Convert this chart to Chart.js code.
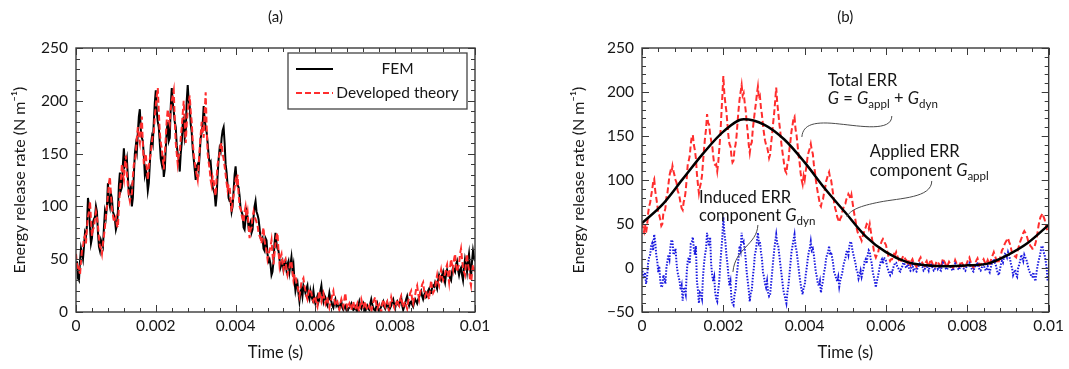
<!DOCTYPE html>
<html><head><meta charset="utf-8">
<script src="https://cdn.jsdelivr.net/npm/chart.js@4.4.1/dist/chart.umd.min.js"></script>
<style>
html,body{margin:0;padding:0;background:#fff;width:1069px;height:369px;overflow:hidden}
#wrapA{position:absolute;left:0;top:0;width:535px;height:369px}
#wrapB{position:absolute;left:535px;top:0;width:534px;height:369px}
</style></head><body>
<div id="wrapA"><canvas id="chartA" width="535" height="369"></canvas></div>
<div id="wrapB"><canvas id="chartB" width="534" height="369"></canvas></div>
<script>
// ---------- data ----------
const sampleStep = 0.00005;       // step of the main noisy samples (s); "Mid" arrays sit halfway between
const applStep = 0.0005;          // time step of the smooth applied ERR (s)

// Panel (a): FEM
const femERR = [
 45, 32, 48, 55, 62, 72, 108, 80, 70, 88, 100, 75, 58, 65, 80, 90, 122, 100, 108, 92,
 78, 95, 132, 118, 155, 140, 128, 115, 100, 130, 158, 170, 192, 165, 148, 135, 115, 140, 165, 180,
 210, 180, 160, 140, 128, 155, 180, 165, 212, 190, 175, 150, 133, 160, 185, 170, 215, 195, 170, 145,
 125, 140, 150, 170, 195, 175, 160, 140, 130, 115, 100, 130, 155, 165, 175, 140, 120, 105, 95, 115,
 138, 120, 110, 95, 80, 88, 90, 82, 75, 90, 105, 92, 80, 68, 60, 70, 55, 50, 35, 48,
 75, 60, 50, 45, 40, 48, 45, 38, 52, 45, 20, 28, 10, 22, 25, 18, 25, 12, 15, 20,
 8, 15, 12, 25, 10, 14, 6, 18, 10, 4, 12, 8, 3, 10, 2, 6, 0, 4, 8, 2,
 5, 0, 10, 3, 8, 0, 6, 2, 12, 4, 1, 8, 0, 5, 10, 3, 9, 2, 6, 12,
 4, 10, 6, 14, 2, 8, 15, 6, 10, 5, 12, 8, 14, 20, 12, 18, 15, 22, 18, 25,
 28, 22, 35, 30, 38, 28, 40, 35, 30, 42, 38, 48, 35, 42, 30, 50, 38, 55, 32, 58, 48
];
const femERRMid = [
 48, 30, 60, 50, 75, 82, 100, 65, 85, 90, 95, 62, 68, 62, 95, 100, 105, 112, 95, 88,
 82, 120, 115, 140, 138, 145, 112, 118, 108, 150, 152, 185, 172, 162, 130, 128, 122, 158, 160, 198,
 190, 175, 145, 148, 135, 172, 162, 195, 198, 180, 158, 145, 150, 178, 165, 200, 200, 178, 155, 135,
 138, 135, 165, 178, 182, 170, 148, 142, 118, 112, 110, 145, 152, 172, 160, 132, 108, 105, 100, 130,
 125, 118, 98, 92, 78, 95, 80, 85, 78, 100, 95, 88, 70, 70, 58, 68, 48, 45, 38, 65,
 65, 58, 42, 48, 45, 40, 48, 45, 40, 30, 25, 18, 18, 15, 22, 22, 15, 20, 12, 12,
 12, 9, 20, 15, 16, 8, 12, 12, 6, 9, 6, 5, 7, 4, 5, 2, 3, 6, 4, 3,
 2, 6, 5, 6, 3, 4, 3, 8, 7, 2, 5, 3, 3, 8, 5, 6, 5, 4, 10, 7,
 8, 7, 11, 6, 5, 12, 10, 9, 7, 9, 10, 12, 18, 15, 16, 14, 20, 18, 23, 24,
 25, 30, 32, 35, 32, 36, 36, 32, 38, 40, 45, 40, 40, 35, 42, 45, 48, 42, 48, 52
];
// Panel (a): developed theory
const theoryERR = [
 55, 40, 35, 58, 70, 65, 90, 105, 72, 80, 95, 82, 62, 55, 72, 92, 110, 128, 98, 85,
 90, 80, 115, 140, 125, 148, 120, 105, 112, 140, 150, 175, 160, 185, 140, 150, 125, 145, 160, 170,
 195, 212, 170, 155, 135, 165, 192, 178, 200, 210, 160, 140, 150, 175, 200, 160, 190, 205, 180, 150,
 135, 125, 155, 180, 165, 208, 150, 135, 120, 125, 110, 140, 150, 160, 145, 130, 115, 120, 95, 110,
 125, 130, 100, 92, 85, 100, 95, 70, 80, 95, 88, 82, 72, 65, 80, 62, 50, 58, 68, 45,
 65, 75, 45, 55, 40, 50, 35, 42, 48, 30, 35, 25, 15, 28, 32, 20, 12, 22, 18, 10,
 15, 5, 20, 10, 18, 8, 14, 4, 12, 20, 6, 10, 2, 12, 5, 18, 3, 8, 2, 10,
 2, 8, 0, 12, 4, 10, 2, 6, 0, 9, 14, 3, 7, 0, 12, 5, 10, 0, 14, 8,
 2, 12, 6, 15, 4, 10, 3, 14, 20, 8, 16, 25, 12, 22, 28, 15, 20, 12, 30, 18,
 22, 35, 25, 40, 30, 36, 45, 28, 50, 40, 55, 38, 45, 60, 42, 35, 55, 40, 25, 45, 38
];
const theoryERRMid = [
 45, 42, 48, 62, 72, 80, 95, 88, 78, 88, 90, 70, 60, 65, 80, 100, 122, 112, 92, 88,
 82, 100, 125, 130, 140, 132, 110, 110, 128, 142, 165, 165, 175, 160, 148, 135, 138, 150, 168, 185,
 205, 190, 160, 145, 150, 182, 182, 192, 205, 182, 150, 148, 165, 188, 178, 178, 198, 190, 162, 142,
 130, 140, 168, 172, 190, 175, 142, 125, 128, 115, 128, 145, 158, 150, 138, 122, 120, 105, 105, 118,
 122, 112, 98, 88, 95, 90, 82, 78, 90, 90, 85, 75, 70, 75, 68, 58, 55, 62, 55, 55,
 72, 58, 52, 45, 48, 40, 40, 48, 38, 35, 28, 20, 22, 30, 25, 15, 18, 20, 12, 14,
 8, 14, 14, 15, 12, 12, 8, 9, 17, 12, 9, 5, 8, 8, 12, 9, 6, 4, 7, 5,
 5, 3, 7, 8, 7, 5, 4, 2, 5, 12, 8, 5, 2, 7, 8, 8, 4, 8, 10, 4,
 8, 8, 12, 9, 8, 6, 10, 18, 12, 14, 22, 18, 18, 26, 20, 18, 15, 22, 22, 20,
 30, 28, 35, 33, 34, 42, 35, 42, 45, 50, 45, 42, 55, 50, 38, 48, 45, 30, 38, 40
];
// Panel (b): total ERR G
const totalERR = [
 52, 41, 40, 62, 74, 89, 101, 80, 62, 55, 50, 63, 80, 95, 110, 116, 105, 97, 85, 73,
 66, 79, 102, 122, 141, 151, 134, 107, 85, 97, 120, 148, 175, 163, 145, 128, 117, 110, 135, 173,
 218, 187, 164, 141, 127, 122, 140, 166, 192, 208, 199, 179, 154, 131, 143, 168, 187, 206, 195, 174,
 153, 140, 132, 129, 152, 176, 205, 177, 155, 133, 116, 108, 121, 144, 162, 172, 151, 128, 108, 95,
 100, 117, 132, 141, 130, 110, 92, 79, 70, 78, 90, 102, 109, 100, 84, 68, 58, 52, 58, 68,
 73, 80, 82, 83, 67, 54, 41, 36, 31, 39, 46, 49, 50, 35, 20, 12, 16, 25, 31, 31,
 26, 15, 8, 10, 16, 18, 11, 6, 11, 13, 9, 9, 3, 10, 5, 1, 7, 12, 5, 2,
 8, 1, 10, 4, 0, 8, 5, 0, 11, 6, 1, 7, 3, 0, 9, 4, 1, 8, 3, 0,
 7, 12, 4, 0, 6, 11, 3, 5, 10, 4, 9, 3, 12, 18, 11, 5, 10, 20, 25, 30,
 34, 27, 17, 14, 12, 22, 30, 36, 42, 38, 30, 25, 22, 24, 33, 48, 58, 62, 55, 45, 40
];
const totalERRMid = [
 44, 50, 48, 70, 82, 98, 88, 72, 60, 48, 62, 68, 85, 105, 108, 110, 100, 88, 80, 68,
 75, 88, 118, 128, 150, 140, 125, 95, 92, 105, 135, 158, 165, 152, 140, 118, 118, 120, 150, 195,
 198, 178, 150, 138, 120, 135, 150, 180, 200, 196, 188, 165, 140, 140, 158, 178, 198, 192, 182, 162,
 145, 138, 125, 142, 165, 190, 188, 165, 142, 125, 110, 118, 135, 155, 170, 158, 140, 120, 100, 105,
 110, 128, 136, 134, 118, 100, 85, 72, 76, 85, 98, 106, 102, 92, 74, 64, 55, 56, 64, 72,
 78, 84, 78, 75, 60, 46, 38, 34, 36, 44, 50, 45, 42, 28, 15, 15, 22, 28, 33, 28,
 20, 11, 10, 14, 15, 14, 8, 9, 14, 10, 6, 5, 8, 6, 3, 5, 10, 8, 3, 6,
 4, 6, 7, 2, 5, 6, 2, 6, 8, 3, 4, 5, 1, 5, 6, 2, 5, 5, 1, 4,
 10, 8, 2, 4, 9, 7, 4, 8, 7, 6, 6, 8, 15, 14, 8, 8, 15, 22, 28, 32,
 30, 22, 15, 13, 18, 26, 33, 40, 40, 34, 28, 24, 22, 28, 40, 54, 60, 58, 50, 42
];
// Panel (b): induced (dynamic) ERR component G_dyn
const dynERR = [
 0, -12, -18, 5, 15, 28, 38, 15, -5, -15, -20, -12, 0, 15, 25, 30, 18, 5, -10, -25,
 -37, -25, -5, 12, 28, 35, 15, -15, -40, -30, -10, 15, 40, 25, 5, -15, -28, -38, -15, 20,
 58, 30, 5, -20, -35, -42, -25, 0, 25, 40, 30, 10, -15, -38, -25, 0, 20, 40, 30, 10,
 -10, -22, -28, -30, -5, 20, 38, 25, 5, -15, -30, -40, -20, 5, 25, 38, 20, 0, -18, -30,
 -20, 0, 18, 30, 22, 5, -10, -20, -28, -15, 0, 15, 25, 18, 5, -8, -15, -21, -10, 2,
 10, 20, 25, 28, 15, 5, -5, -8, -10, 0, 10, 15, 18, 5, -10, -22, -10, 3, 10, 12,
 8, -2, -8, -5, 3, 6, 0, -4, 2, 5, 0, 3, -3, 4, 0, -4, 2, 6, 1, -2,
 3, -3, 5, 0, -2, 4, 1, -3, 6, 2, -2, 3, 0, -3, 5, 1, -2, 4, 0, -3,
 3, 6, 0, -4, 2, 5, -2, 0, 4, -3, 2, -5, 5, 10, 3, -6, -2, 8, 12, 15,
 18, 10, 0, -5, -8, 0, 8, 12, 15, 10, 0, -6, -10, -12, -5, 8, 18, 24, 15, 0, -10
];
const dynERRMid = [
 -8, -5, -10, 12, 25, 20, 30, 8, 2, -22, -8, -18, 8, 10, 32, 15, 22, -5, -15, -20,
 -22, -30, 8, 5, 30, 22, 25, -25, -28, -35, 5, 22, 30, 35, -8, -10, -35, -25, 5, 35,
 40, 15, -8, -15, -40, -30, -10, 12, 20, 28, 22, -5, -25, -28, -10, 15, 30, 28, 18, -5,
 -18, -15, -32, -18, 8, 30, 28, 15, -5, -25, -35, -28, -8, 18, 32, 25, 10, -10, -25, -22,
 -8, 10, 22, 20, 15, -5, -18, -15, -20, -5, 10, 18, 15, 12, -5, -12, -10, -14, -5, 8,
 18, 15, 30, 20, 10, -2, -12, -3, -5, 8, 5, 20, 10, -5, -15, -15, -4, 8, 5, 10,
 2, -6, -3, 0, 6, 2, -3, 0, 6, 2, 4, -2, 1, -2, -3, 0, 5, 2, -3, 2,
 0, 2, 2, -3, 2, -1, -2, 3, 4, -1, 1, 2, -2, 2, 3, -1, 2, 1, -2, 1,
 5, 2, -3, 0, 4, 1, -3, 3, 0, -1, -3, 0, 8, 6, -2, -8, 4, 6, 16, 12,
 14, 4, -8, -2, -10, 4, 15, 8, 12, 5, -4, -10, -5, -15, 2, 12, 25, 18, 8, -15
];
// Panel (b): applied ERR component G_appl (smooth)
const applERR = [51, 72, 101, 130, 155, 169, 163, 146, 120, 90, 63, 36, 18, 7, 3, 2, 3, 5, 15, 29, 49];

// tick labels
const xTickLabels = ['0', '0.002', '0.004', '0.006', '0.008', '0.01'];
const yTickLabelsA = ['0', '50', '100', '150', '200', '250'];
const yTickLabelsB = ['\u221250', '0', '50', '100', '150', '200', '250'];

// ---------- helpers ----------
const FONT = 'Lato, "Open Sans", sans-serif';
const TXT = '#161616';
// merge main samples with the halfway samples into one {x, y} list
function series(main, mid) {
  const out = [];
  main.forEach((v, i) => {
    out.push({x: +(i * sampleStep).toFixed(7), y: v});
    if (i < mid.length) out.push({x: +((i + 0.5) * sampleStep).toFixed(7), y: mid[i]});
  });
  return out;
}
const applPoints = applERR.map((v, i) => ({x: +(i * applStep).toFixed(6), y: v}));

Chart.defaults.font.family = FONT;
Chart.defaults.color = TXT;

function drawRich(ctx, x, y, segs, size) {
  let cx = x;
  ctx.textAlign = 'left';
  ctx.textBaseline = 'alphabetic';
  for (const s of segs) {
    const fs = s.sub ? size * 0.7 : size;
    ctx.font = (s.it ? 'italic ' : '') + fs + 'px ' + FONT;
    ctx.fillText(s.t, cx, y + (s.sub ? size * 0.22 : 0));
    cx += ctx.measureText(s.t).width;
  }
}

const frameTicks = {
  id: 'frameTicks',
  afterDatasetsDraw(chart, args, o) {
    const {ctx, chartArea: a, scales: {x, y}} = chart;
    ctx.save();
    ctx.strokeStyle = o.color;
    ctx.lineWidth = 1;
    const along = (scale, step, len, horiz) => {
      for (let k = 0; ; k++) {
        const v = scale.min + k * step;
        if (v > scale.max + step * 1e-6) break;
        const p = Math.round(scale.getPixelForValue(v)) + 0.5;
        ctx.beginPath();
        if (horiz) {
          ctx.moveTo(p, a.bottom); ctx.lineTo(p, a.bottom - len);
          ctx.moveTo(p, a.top); ctx.lineTo(p, a.top + len);
        } else {
          ctx.moveTo(a.left, p); ctx.lineTo(a.left + len, p);
          ctx.moveTo(a.right, p); ctx.lineTo(a.right - len, p);
        }
        ctx.stroke();
      }
    };
    along(x, o.xMinor, o.minorLen, true);
    along(x, o.xMajor, o.majorLen, true);
    along(y, o.yMinor, o.minorLen, false);
    along(y, o.yMajor, o.majorLen, false);
    ctx.lineWidth = o.frameWidth;
    ctx.strokeRect(a.left, a.top, a.right - a.left, a.bottom - a.top);
    ctx.restore();
  }
};

const insetLegend = {
  id: 'insetLegend',
  afterDraw(chart, args, o) {
    if (!o.entries) return;
    const {ctx, chartArea: a} = chart;
    const bx = a.right - o.right - o.width, by = a.top + o.top;
    ctx.save();
    ctx.fillStyle = '#fff';
    ctx.fillRect(bx, by, o.width, o.height);
    ctx.strokeStyle = '#444';
    ctx.lineWidth = 1.3;
    ctx.strokeRect(bx, by, o.width, o.height);
    o.entries.forEach((label, k) => {
      const ds = chart.data.datasets.find(d => d.label === label);
      const yy = by + o.rowY[k];
      ctx.strokeStyle = ds.borderColor;
      ctx.lineWidth = ds.borderWidth;
      ctx.setLineDash(ds.borderDash || []);
      ctx.beginPath();
      ctx.moveTo(bx + o.sampleX0, yy);
      ctx.lineTo(bx + o.sampleX1, yy);
      ctx.stroke();
      ctx.setLineDash([]);
      ctx.fillStyle = TXT;
      ctx.font = o.fontSize + 'px ' + FONT;
      ctx.textAlign = 'center';
      ctx.textBaseline = 'middle';
      ctx.fillText(label, bx + o.textCX, yy);
    });
    ctx.restore();
  }
};

const annotations = {
  id: 'annotations',
  afterDraw(chart, args, o) {
    if (!o.labels) return;
    const {ctx, scales: {x, y}} = chart;
    const P = p => [x.getPixelForValue(p[0]), y.getPixelForValue(p[1])];
    ctx.save();
    ctx.strokeStyle = '#4a4a4a';
    ctx.lineWidth = 1;
    o.leaders.forEach(path => {
      const q = path.map(P);
      ctx.beginPath();
      ctx.moveTo(q[0][0], q[0][1]);
      for (let k = 1; k + 2 < q.length; k += 3) {
        ctx.bezierCurveTo(q[k][0], q[k][1], q[k + 1][0], q[k + 1][1], q[k + 2][0], q[k + 2][1]);
      }
      ctx.stroke();
    });
    ctx.fillStyle = TXT;
    o.labels.forEach(l => {
      const [px, py] = P([l.t, l.v]);
      drawRich(ctx, px, py, l.segs, o.fontSize);
    });
    ctx.restore();
  }
};

function baseOptions(cfg) {
  return {
    responsive: false,
    animation: false,
    devicePixelRatio: 1,
    parsing: false,
    normalized: true,
    layout: {padding: {left: cfg.padLeft, right: cfg.padRight, top: 0, bottom: 0}},
    elements: {point: {radius: 0}, line: {fill: false}},
    plugins: {
      legend: {display: false},
      tooltip: {enabled: false},
      title: {
        display: true, text: cfg.title, fullSize: false, color: TXT,
        font: {size: 15, weight: 'normal'}, padding: {top: 8, bottom: 22}
      },
      frameTicks: {color: '#3a3a3a', frameWidth: 1.4, majorLen: 7, minorLen: 4,
        xMajor: 0.002, xMinor: 0.0004, yMajor: 50, yMinor: 10},
      insetLegend: cfg.legend || {},
      annotations: cfg.annotations || {}
    },
    scales: {
      x: {
        type: 'linear', min: 0, max: 0.01,
        grid: {display: false, drawTicks: false}, border: {display: false},
        ticks: {stepSize: 0.002, autoSkip: false, maxRotation: 0, padding: 5,
          font: {size: 15.5}, color: TXT, callback: (v, i) => xTickLabels[i]},
        title: {display: true, text: 'Time (s)', color: TXT, font: {size: 16.5},
          padding: {top: 0, bottom: 6}},
        afterFit: s => { s.height = 57; }
      },
      y: {
        type: 'linear', min: cfg.yMin, max: 250,
        grid: {display: false, drawTicks: false}, border: {display: false},
        ticks: {stepSize: 50, autoSkip: false, padding: 8, font: {size: 15.5}, color: TXT,
          callback: (v, i) => cfg.yLabels[i]},
        title: {display: true, text: 'Energy release rate (N m\u207B\u00B9)', color: TXT,
          font: {size: 16}, padding: {top: cfg.yTitlePad, bottom: 0}},
        afterFit: s => { s.width = cfg.yWidth; }
      }
    }
  };
}

new Chart(document.getElementById('chartA'), {
  type: 'line',
  data: {
    datasets: [
      {label: 'Developed theory', data: series(theoryERR, theoryERRMid), borderColor: '#ff2d2d',
        borderWidth: 2, borderDash: [6, 3], tension: 0, order: 0},
      {label: 'FEM', data: series(femERR, femERRMid), borderColor: '#000000',
        borderWidth: 2, tension: 0, order: 1}
    ]
  },
  options: baseOptions({
    title: '(a)', padLeft: 0, padRight: 60, yWidth: 76, yTitlePad: 10, yMin: 0,
    yLabels: yTickLabelsA,
    legend: {entries: ['FEM', 'Developed theory'], right: 8, top: 5, width: 179, height: 56,
      rowY: [16, 40], sampleX0: 8, sampleX1: 45, textCX: 109.5, fontSize: 15.5}
  }),
  plugins: [frameTicks, insetLegend]
});

new Chart(document.getElementById('chartB'), {
  type: 'line',
  data: {
    datasets: [
      {label: 'Applied ERR component G_appl', data: applPoints, borderColor: '#000000',
        borderWidth: 2.5, cubicInterpolationMode: 'monotone', order: 0},
      {label: 'Induced ERR component G_dyn', data: series(dynERR, dynERRMid), borderColor: '#1a1ae0',
        borderWidth: 2, borderDash: [1.5, 1.5], tension: 0, order: 1},
      {label: 'Total ERR G', data: series(totalERR, totalERRMid), borderColor: '#ff2d2d',
        borderWidth: 2, borderDash: [6, 3], tension: 0, order: 2}
    ]
  },
  options: baseOptions({
    title: '(b)', padLeft: 0, padRight: 20, yWidth: 107, yTitlePad: 34, yMin: -50,
    yLabels: yTickLabelsB,
    annotations: {
      fontSize: 16.5,
      leaders: [
        [[0.006143, 172.7], [0.006143, 154.5], [0.005356, 161.4], [0.004865, 163.6],
         [0.004251, 167], [0.003956, 163.6], [0.003931, 148.9]],
        [[0.007125, 98.9], [0.007125, 79.5], [0.00634, 79.5], [0.00585, 75],
         [0.005356, 70.5], [0.00511, 65.9], [0.005037, 58]],
        [[0.00285, 48.9], [0.002826, 26.1], [0.002285, 22.7], [0.002236, -4.5]]
      ],
      labels: [
        {t: 0.00457, v: 206.8, segs: [{t: 'Total ERR'}]},
        {t: 0.00457, v: 186.4, segs: [{t: 'G', it: 1}, {t: ' = '}, {t: 'G', it: 1}, {t: 'appl', sub: 1},
          {t: ' + '}, {t: 'G', it: 1}, {t: 'dyn', sub: 1}]},
        {t: 0.0056, v: 126.1, segs: [{t: 'Applied ERR'}]},
        {t: 0.0056, v: 104.5, segs: [{t: 'component '}, {t: 'G', it: 1}, {t: 'appl', sub: 1}]},
        {t: 0.0014, v: 73.9, segs: [{t: 'Induced ERR'}]},
        {t: 0.0014, v: 53.4, segs: [{t: 'component '}, {t: 'G', it: 1}, {t: 'dyn', sub: 1}]}
      ]
    }
  }),
  plugins: [frameTicks, annotations]
});
</script>
</body></html>
